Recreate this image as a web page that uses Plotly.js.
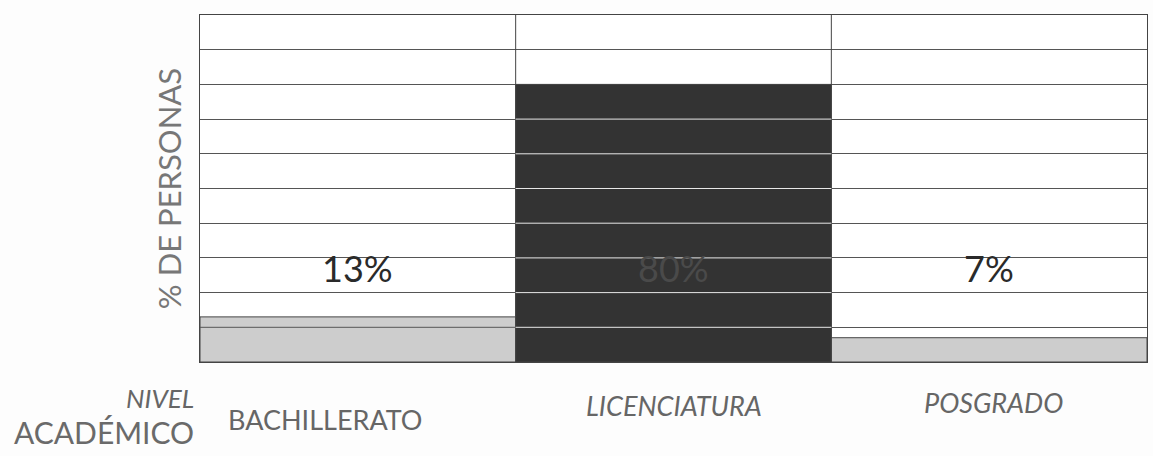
<!DOCTYPE html>
<html><head><meta charset="utf-8">
<script src="https://cdn.plot.ly/plotly-3.0.1.min.js"></script>
<style>html,body{margin:0;padding:0;background:#fdfdfd;}#c{width:1153px;height:456px;}</style>
</head><body><div id="c"></div>
<script>
const categories = ["BACHILLERATO", "LICENCIATURA", "POSGRADO"];
const values = [13, 80, 7];
const valueLabels = ["13%", "80%", "7%"];
const yTicks = [0, 10, 20, 30, 40, 50, 60, 70, 80, 90, 100];
const barColors = ["#cdcdcd", "#333333", "#cdcdcd"];
const gridOnBar = ["#555555", "#e8e8e8", "#555555"];
const labelItalic = [false, true, true];
const labelY = [-0.167, -0.124, -0.118];
const labelXShift = [-33, 0, 4];

const FONT = "Lato, 'DejaVu Sans', sans-serif";

const trace = {
  type: "bar", x: categories, y: values,
  marker: {color: barColors, line: {color: "#444", width: 1}},
  hoverinfo: "none"
};

const shapes = [];
for (let i = 0; i < categories.length - 1; i++) {
  shapes.push({type: "line", xref: "x", yref: "paper", x0: i + 0.5, x1: i + 0.5, y0: 0, y1: 1,
    line: {color: "#444", width: 1}, layer: "above"});
}
categories.forEach((c, i) => {
  yTicks.forEach(t => {
    if (t > 0 && t < values[i]) {
      shapes.push({type: "line", xref: "x", yref: "y", x0: i - 0.5, x1: i + 0.5, y0: t, y1: t,
        line: {color: gridOnBar[i], width: 1}, layer: "above"});
    }
  });
});

const annotations = [];
categories.forEach((c, i) => {
  annotations.push({x: c, y: 27, xref: "x", yref: "y", text: valueLabels[i], showarrow: false,
    font: {family: FONT, size: 36, color: i === 1 ? "#4a4a4a" : "#2a2a2a"}});
  annotations.push({x: c, y: labelY[i], xref: "x", yref: "paper", xshift: labelXShift[i],
    text: labelItalic[i] ? "<i>" + c + "</i>" : c, showarrow: false, yanchor: "middle",
    font: {family: FONT, size: 27, color: "#666"}});
});
annotations.push({xref: "paper", yref: "paper", x: -0.004, y: -0.104, xanchor: "right", yanchor: "middle",
  text: "<i>NIVEL</i>", showarrow: false, font: {family: FONT, size: 26, color: "#666"}});
annotations.push({xref: "paper", yref: "paper", x: -0.004, y: -0.202, xanchor: "right", yanchor: "middle",
  text: "ACADÉMICO", showarrow: false, font: {family: FONT, size: 30, color: "#6a6a6a"}});

const layout = {
  width: 1153, height: 456,
  margin: {l: 200, r: 6, t: 15, b: 94},
  paper_bgcolor: "#fdfdfd", plot_bgcolor: "#ffffff",
  bargap: 0, showlegend: false,
  xaxis: {type: "category", range: [-0.5, 2.5], showticklabels: false, showgrid: false,
    showline: true, mirror: true, linecolor: "#444", linewidth: 1, zeroline: false},
  yaxis: {range: [0, 100], tickvals: yTicks, showticklabels: false, showgrid: true,
    gridcolor: "#555", gridwidth: 1, showline: true, mirror: true, linecolor: "#444", linewidth: 1,
    zeroline: false,
    title: {text: "% DE PERSONAS", standoff: 8,
      font: {family: FONT, size: 31, color: "#777"}}},
  shapes: shapes, annotations: annotations
};
Plotly.newPlot("c", [trace], layout, {displayModeBar: false, staticPlot: true});
</script></body></html>
